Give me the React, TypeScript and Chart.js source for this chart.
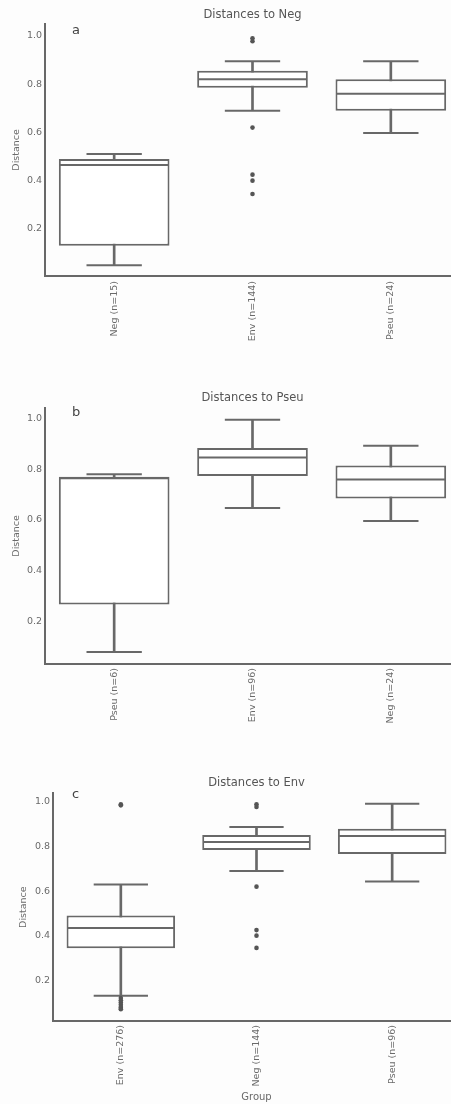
import React, { useEffect, useRef } from "react";
import Chart from "chart.js/auto";

const FONT = "'DejaVu Sans', sans-serif";
const LINE = "#686868";
const TEXT = "#6a6a6a";

const yTicks = [0.2, 0.4, 0.6, 0.8, 1.0];

// Panel a: Distances to Neg
const aCategories = ["Neg (n=15)", "Env (n=144)", "Pseu (n=24)"];
const aLow = [0.05, 0.69, 0.598];
const aQ1 = [0.13, 0.785, 0.69];
const aMedian = [0.465, 0.82, 0.76];
const aQ3 = [0.49, 0.855, 0.82];
const aHigh = [0.51, 0.895, 0.895];
const aOutliers = [[], [0.99, 0.978, 0.62, 0.425, 0.4, 0.345], []];

// Panel b: Distances to Pseu
const bCategories = ["Pseu (n=6)", "Env (n=96)", "Neg (n=24)"];
const bLow = [0.08, 0.647, 0.596];
const bQ1 = [0.267, 0.773, 0.685];
const bMedian = [0.765, 0.846, 0.76];
const bQ3 = [0.77, 0.884, 0.815];
const bHigh = [0.78, 0.995, 0.893];
const bOutliers = [[], [], []];

// Panel c: Distances to Env
const cCategories = ["Env (n=276)", "Neg (n=144)", "Pseu (n=96)"];
const cLow = [0.13, 0.69, 0.643];
const cQ1 = [0.344, 0.785, 0.766];
const cMedian = [0.434, 0.82, 0.847];
const cQ3 = [0.49, 0.852, 0.88];
const cHigh = [0.63, 0.888, 0.992];
const cOutliers = [
  [0.99, 0.985, 0.12, 0.11, 0.1, 0.09, 0.08, 0.075, 0.07],
  [0.99, 0.978, 0.62, 0.425, 0.4, 0.345],
  [],
];

type Panel = {
  title: string;
  letter: string;
  categories: string[];
  low: number[];
  q1: number[];
  median: number[];
  q3: number[];
  high: number[];
  outliers: number[][];
  xTitle: string;
  yMin: number;
  yMax: number;
  top: number;
  height: number;
  yWidth: number;
  xHeight: number;
  titlePadTop: number;
  titlePadBottom: number;
  yTitlePad: number;
  xTickPad: number;
  letterX: number;
  letterY: number;
};

const panels: Panel[] = [
  {
    title: "Distances to Neg", letter: "a",
    categories: aCategories, low: aLow, q1: aQ1, median: aMedian, q3: aQ3, high: aHigh, outliers: aOutliers,
    xTitle: "", yMin: 0.005, yMax: 1.05,
    top: 0, height: 370, yWidth: 45, xHeight: 94, titlePadTop: 8, titlePadBottom: 2, yTitlePad: 11, xTickPad: 5,
    letterX: 72, letterY: 22,
  },
  {
    title: "Distances to Pseu", letter: "b",
    categories: bCategories, low: bLow, q1: bQ1, median: bMedian, q3: bQ3, high: bHigh, outliers: bOutliers,
    xTitle: "", yMin: 0.033, yMax: 1.042,
    top: 375, height: 365, yWidth: 45, xHeight: 76, titlePadTop: 16, titlePadBottom: 3, yTitlePad: 11, xTickPad: 4,
    letterX: 72, letterY: 404,
  },
  {
    title: "Distances to Env", letter: "c",
    categories: cCategories, low: cLow, q1: cQ1, median: cMedian, q3: cQ3, high: cHigh, outliers: cOutliers,
    xTitle: "Group", yMin: 0.017, yMax: 1.039,
    top: 750, height: 354, yWidth: 53, xHeight: 83, titlePadTop: 26, titlePadBottom: 3.5, yTitlePad: 18, xTickPad: 4,
    letterX: 72, letterY: 786,
  },
];

const catWidth = (ctx: any) => {
  const area = ctx.chart.chartArea;
  return area ? area.width / 3 : 138;
};

function buildConfig(p: Panel): any {
  const outlierData: { x: string; y: number }[] = [];
  p.outliers.forEach((vals, i) => vals.forEach((v) => outlierData.push({ x: p.categories[i], y: v })));
  return {
    type: "bar",
    data: {
      labels: p.categories,
      datasets: [
        {
          type: "line",
          data: outlierData,
          showLine: false,
          pointRadius: 2.3,
          pointBackgroundColor: "#555555",
          pointBorderColor: "#555555",
          pointBorderWidth: 0,
          clip: false,
          order: 0,
        },
        {
          type: "line",
          data: p.median,
          showLine: false,
          pointStyle: "line",
          pointRadius: (ctx: any) => catWidth(ctx) * 0.4 - 1,
          pointBorderColor: LINE,
          pointBorderWidth: 2,
          clip: false,
          order: 1,
        },
        {
          type: "line",
          data: p.high,
          showLine: false,
          pointStyle: "line",
          pointRadius: (ctx: any) => catWidth(ctx) * 0.2,
          pointBorderColor: LINE,
          pointBorderWidth: 2,
          clip: false,
          order: 2,
        },
        {
          type: "line",
          data: p.low,
          showLine: false,
          pointStyle: "line",
          pointRadius: (ctx: any) => catWidth(ctx) * 0.2,
          pointBorderColor: LINE,
          pointBorderWidth: 2,
          clip: false,
          order: 3,
        },
        {
          type: "bar",
          data: p.q1.map((v, i) => [v, p.q3[i]]),
          backgroundColor: "#ffffff",
          borderColor: LINE,
          borderWidth: 2,
          borderSkipped: false,
          grouped: false,
          barPercentage: 0.8,
          categoryPercentage: 1,
          order: 5,
        },
        {
          type: "bar",
          data: p.low.map((v, i) => [v, p.high[i]]),
          backgroundColor: LINE,
          borderWidth: 0,
          grouped: false,
          barThickness: 2,
          order: 6,
        },
      ],
    },
    options: {
      responsive: false,
      animation: false,
      devicePixelRatio: 1,
      layout: { padding: 0, autoPadding: false },
      plugins: {
        legend: { display: false },
        tooltip: { enabled: false },
        title: {
          display: true,
          text: p.title,
          fullSize: false,
          color: "#555555",
          font: { family: FONT, size: 11.5, weight: "normal" },
          padding: { top: p.titlePadTop, bottom: p.titlePadBottom },
        },
      },
      scales: {
        x: {
          type: "category",
          offset: true,
          grid: { display: false, drawTicks: false },
          border: { display: true, color: LINE, width: 2 },
          ticks: {
            autoSkip: false,
            minRotation: 90,
            maxRotation: 90,
            padding: p.xTickPad,
            color: TEXT,
            font: { family: FONT, size: 9.5 },
          },
          title: {
            display: !!p.xTitle,
            text: p.xTitle,
            color: TEXT,
            font: { family: FONT, size: 10 },
            padding: { top: 0, bottom: 1 },
          },
          afterFit: (s: any) => {
            s.height = p.xHeight;
          },
        },
        y: {
          type: "linear",
          min: p.yMin,
          max: p.yMax,
          grid: { display: false, drawTicks: false },
          border: { display: true, color: LINE, width: 2 },
          afterBuildTicks: (s: any) => {
            s.ticks = yTicks.map((v) => ({ value: v }));
          },
          ticks: {
            padding: 3,
            color: TEXT,
            font: { family: FONT, size: 9.5 },
            callback: (v: any) => Number(v).toFixed(1),
          },
          title: {
            display: true,
            text: "Distance",
            color: TEXT,
            font: { family: FONT, size: 9.5 },
            padding: { top: p.yTitlePad, bottom: 0 },
          },
          afterFit: (s: any) => {
            s.width = p.yWidth;
          },
        },
      },
    },
  };
}

function PanelChart({ p }: { p: Panel }) {
  const ref = useRef<HTMLCanvasElement | null>(null);
  useEffect(() => {
    if (!ref.current) return;
    const chart = new Chart(ref.current, buildConfig(p));
    return () => chart.destroy();
  }, [p]);
  return (
    <>
      <canvas
        ref={ref}
        width={460}
        height={p.height}
        style={{ position: "absolute", left: 0, top: p.top, width: 460, height: p.height, display: "block" }}
      />
      <span
        style={{
          position: "absolute",
          left: p.letterX,
          top: p.letterY,
          fontFamily: FONT,
          fontSize: 13,
          color: "#444",
          lineHeight: "15px",
        }}
      >
        {p.letter}
      </span>
    </>
  );
}

export default function App() {
  return (
    <div
      style={{
        position: "absolute",
        left: 0,
        top: 0,
        width: 451,
        height: 1104,
        overflow: "hidden",
        background: "#fdfdfd",
      }}
    >
      {panels.map((p) => (
        <PanelChart key={p.letter} p={p} />
      ))}
    </div>
  );
}
